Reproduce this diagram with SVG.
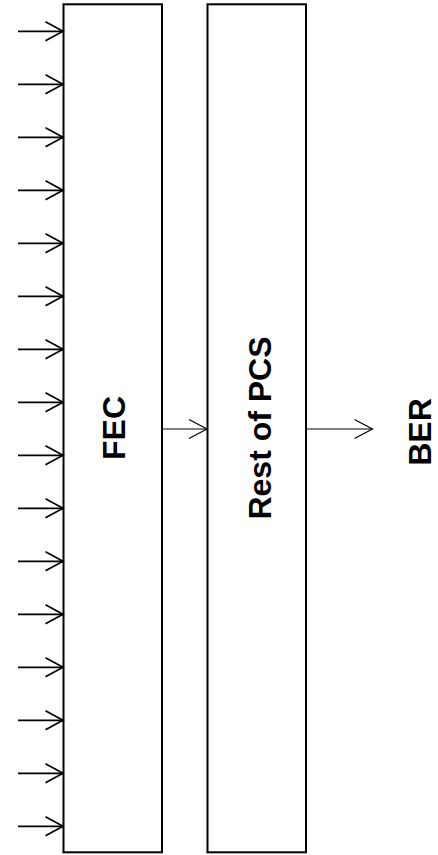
<svg xmlns="http://www.w3.org/2000/svg" width="438" height="855" viewBox="0 0 438 855">
<style>
.box{fill:#fff;stroke:#000;stroke-width:2}
.lbl{font-family:"Liberation Sans",Arial,sans-serif;font-weight:bold;font-size:32px;fill:#000;text-anchor:middle}
.in{stroke:#000;stroke-width:1.7;fill:none}
.mid{stroke:#000;stroke-width:1.2;fill:none}
</style>
<defs>
<marker id="hIn" markerUnits="userSpaceOnUse" viewBox="-20 -12 22 24" markerWidth="22" markerHeight="24" refX="0" refY="0" orient="auto" overflow="visible">
<path d="M-17.5,-9.5 L0,0 L-17.5,9.5" fill="none" stroke="#000" stroke-width="1.7"/>
</marker>
<marker id="hMid" markerUnits="userSpaceOnUse" viewBox="-20 -12 22 24" markerWidth="22" markerHeight="24" refX="0" refY="0" orient="auto" overflow="visible">
<path d="M-18,-9.5 L0,0 L-18,9.5" fill="none" stroke="#000" stroke-width="1.2"/>
</marker>
</defs>
<g id="fec">
<rect class="box" x="63.5" y="4.3" width="98.5" height="848"/>
<text class="lbl" transform="translate(125 428) rotate(-90)">FEC</text>
</g>
<g id="rest-of-pcs">
<rect class="box" x="207.5" y="4.3" width="98.5" height="848"/>
<text class="lbl" transform="translate(271 428) rotate(-90)">Rest of PCS</text>
</g>
<g id="ber">
<text class="lbl" transform="translate(431 432) rotate(-90)">BER</text>
</g>
<g id="connectors">
<g class="in" marker-end="url(#hIn)">
<line x1="18" y1="31.3" x2="63" y2="31.3"/>
<line x1="18" y1="84.3" x2="63" y2="84.3"/>
<line x1="18" y1="137.3" x2="63" y2="137.3"/>
<line x1="18" y1="190.3" x2="63" y2="190.3"/>
<line x1="18" y1="243.3" x2="63" y2="243.3"/>
<line x1="18" y1="296.3" x2="63" y2="296.3"/>
<line x1="18" y1="349.3" x2="63" y2="349.3"/>
<line x1="18" y1="402.3" x2="63" y2="402.3"/>
<line x1="18" y1="455.3" x2="63" y2="455.3"/>
<line x1="18" y1="508.3" x2="63" y2="508.3"/>
<line x1="18" y1="561.3" x2="63" y2="561.3"/>
<line x1="18" y1="614.3" x2="63" y2="614.3"/>
<line x1="18" y1="667.3" x2="63" y2="667.3"/>
<line x1="18" y1="720.3" x2="63" y2="720.3"/>
<line x1="18" y1="773.3" x2="63" y2="773.3"/>
<line x1="18" y1="826.3" x2="63" y2="826.3"/>
</g>
<line class="mid" x1="162" y1="429" x2="207" y2="429" marker-end="url(#hMid)"/>
<line class="mid" x1="306" y1="429" x2="372.5" y2="429" marker-end="url(#hMid)"/>
</g>
</svg>
